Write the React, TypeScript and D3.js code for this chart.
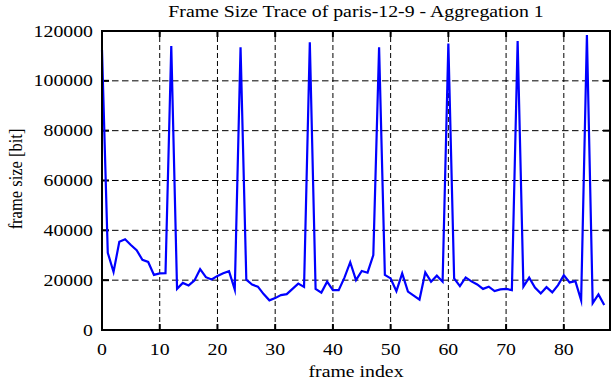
import React from "react";
import * as d3 from "d3";

const frameSizes: number[] = [
  112500, 31000, 23300, 35400, 36400, 34100, 32000, 28200, 27300, 22100,
  22700, 22800, 114000, 16500, 18900, 17900, 19800, 24400, 21200, 20300,
  21700, 22800, 23600, 16200, 113500, 20200, 18200, 17400, 14400, 11900,
  12800, 14000, 14400, 16500, 18600, 17300, 115500, 16500, 15000, 19400,
  16000, 16000, 21000, 27200, 20000, 23700, 23000, 30100, 113500, 22100,
  20700, 15600, 22700, 15400, 13800, 12200, 23100, 19400, 21800, 19400,
  115000, 20700, 17600, 21100, 19500, 18300, 16500, 17400, 15600, 16300,
  16500, 16000, 116000, 17400, 21000, 17000, 14700, 17200, 15100, 18000,
  22000, 19100, 19600, 11900, 118400, 10800, 14300, 10000,
];
const xTicks: number[] = [0, 10, 20, 30, 40, 50, 60, 70, 80];
const yTicks: number[] = [0, 20000, 40000, 60000, 80000, 100000, 120000];
const title = "Frame Size Trace of paris-12-9 - Aggregation 1";
const xLabel = "frame index";
const yLabel = "frame size [bit]";

const W = 612;
const H = 382;
const L = 102;
const R = 610;
const T = 31;
const B = 330;
const SX = 1.2;
const FONT = "'Liberation Serif', 'Times New Roman', serif";
const FS = 16.5;

export default function App() {
  const x = d3.scaleLinear().domain([0, 88]).range([L, R]);
  const y = d3.scaleLinear().domain([0, 120000]).range([B, T]);
  const line = d3
    .line<number>()
    .x((_, i) => x(i))
    .y((d) => y(d));

  const txt = (
    key: string,
    s: string,
    tx: number,
    ty: number,
    anchor: string,
    rotate = false
  ) => (
    <text
      key={key}
      transform={`translate(${tx},${ty}) scale(${SX},1)${rotate ? " rotate(-90)" : ""}`}
      textAnchor={anchor}
      fontFamily={FONT}
      fontSize={FS}
      fill="#000"
    >
      {s}
    </text>
  );

  return (
    <svg
      width={W}
      height={H}
      style={{ position: "absolute", left: 0, top: 0, background: "#fff" }}
    >
      <rect x={0} y={0} width={W} height={H} fill="#fff" />
      {xTicks
        .filter((t) => t > 0)
        .map((t) => (
          <line
            key={"gx" + t}
            x1={x(t)}
            x2={x(t)}
            y1={B}
            y2={T}
            stroke="#000"
            strokeWidth={1}
            strokeDasharray="5,3"
          />
        ))}
      {yTicks
        .filter((t) => t > 0 && t < 120000)
        .map((t) => (
          <line
            key={"gy" + t}
            x1={L}
            x2={R}
            y1={y(t)}
            y2={y(t)}
            stroke="#000"
            strokeWidth={1}
            strokeDasharray="6.5,3.5"
          />
        ))}
      {xTicks.map((t) => (
        <g key={"tx" + t}>
          <line x1={x(t)} x2={x(t)} y1={B} y2={B - 6} stroke="#000" strokeWidth={2} />
          <line x1={x(t)} x2={x(t)} y1={T} y2={T + 6} stroke="#000" strokeWidth={2} />
        </g>
      ))}
      {yTicks.map((t) => (
        <g key={"ty" + t}>
          <line x1={L} x2={L + 7} y1={y(t)} y2={y(t)} stroke="#000" strokeWidth={2} />
          <line x1={R} x2={R - 7} y1={y(t)} y2={y(t)} stroke="#000" strokeWidth={2} />
        </g>
      ))}
      <path
        d={line(frameSizes) || ""}
        fill="none"
        stroke="#0000ff"
        strokeWidth={2.2}
        strokeLinejoin="miter"
        strokeMiterlimit={10}
      />
      <rect
        x={L}
        y={T}
        width={R - L}
        height={B - T}
        fill="none"
        stroke="#000"
        strokeWidth={2}
      />
      {xTicks.map((t) => txt("lx" + t, String(t), x(t), 355, "middle"))}
      {yTicks.map((t) => txt("ly" + t, String(t), 93, y(t) + 5.5, "end"))}
      {txt("title", title, 356, 17, "middle")}
      {txt("xl", xLabel, 356, 377, "middle")}
      {txt("yl", yLabel, 22, 179, "middle", true)}
    </svg>
  );
}
